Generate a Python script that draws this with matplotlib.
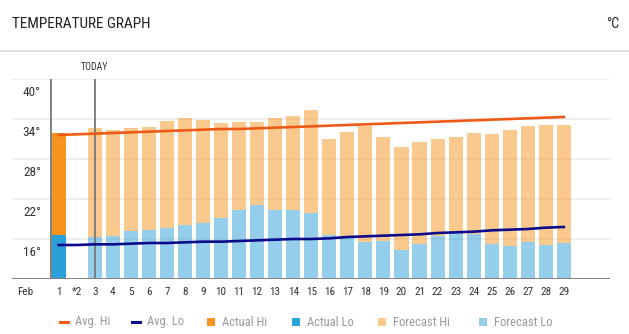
#!/usr/bin/env python
"""
Monthly temperature chart: actual / forecast highs and lows as columns,
with the long-term average highs and lows drawn as lines.
"""
import matplotlib
matplotlib.use("Agg")
import matplotlib.pyplot as plt
from matplotlib.lines import Line2D
from matplotlib.patches import Rectangle
from matplotlib.transforms import offset_copy, blended_transform_factory

plt.rcParams['font.family'] = ['Roboto Condensed', 'Liberation Sans Narrow', 'Roboto',
                               'DejaVu Sans']

# day labels along the x axis (day 2 has no reading)
days = list(range(1, 30))
day_labels = ['1', '*2'] + [str(d) for d in range(3, 30)]

# observed values (day 1)
actual_days = [1]
actual_hi = [31.9]
actual_lo = [16.6]

# forecast values (days 3..29)
forecast_days = list(range(3, 30))
forecast_hi = [32.7, 32.4, 32.7, 32.8, 33.7, 34.2, 33.9, 33.4, 33.6, 33.6,
               34.2, 34.5, 35.4, 31.0, 32.0, 33.0, 31.3, 29.8, 30.6, 31.0,
               31.3, 31.9, 31.8, 32.4, 33.0, 33.1, 33.1]
forecast_lo = [16.3, 16.4, 17.2, 17.4, 17.7, 18.1, 18.4, 19.2, 20.4, 21.1,
               20.4, 20.4, 19.9, 16.6, 16.2, 15.6, 15.7, 14.4, 15.3, 16.4,
               17.0, 16.8, 15.3, 15.0, 15.6, 15.1, 15.4]

# long-term averages for every day of the month
avg_hi = [31.6, 31.7, 31.8, 31.9, 32.0, 32.1, 32.2, 32.3, 32.4, 32.5,
          32.5, 32.6, 32.7, 32.8, 32.9, 33.0, 33.1, 33.2, 33.3, 33.4,
          33.5, 33.6, 33.7, 33.8, 33.9, 34.0, 34.1, 34.2, 34.3]
avg_lo = [15.1, 15.1, 15.2, 15.2, 15.3, 15.4, 15.4, 15.5, 15.6, 15.6,
          15.7, 15.8, 15.9, 16.0, 16.0, 16.1, 16.3, 16.4, 16.5, 16.6,
          16.7, 16.9, 17.0, 17.1, 17.3, 17.4, 17.5, 17.7, 17.8]

y_ticks = [16, 22, 28, 34, 40]

HI = '#f7941e'
LO = '#2a9fd8'
AVG_HI = '#ee5a16'
AVG_LO = '#0a0a8a'
W, H = 629, 334

fig = plt.figure(figsize=(W / 100, H / 100), dpi=100)
ax = fig.add_axes([12 / W, 1 - 279 / H, 598 / W, 200 / H])
ax.set_xlim(-1.59, 31.56)
ax.set_ylim(10, 40)
for s in ax.spines.values():
    s.set_visible(False)

# grid
for v in y_ticks:
    ax.axhline(v, color='#eeeeee', lw=1.3, zorder=0)
ax.axhline(10, color='#808080', lw=1.4, zorder=5)

bw = 0.78
ax.bar(actual_days, [h - l for h, l in zip(actual_hi, actual_lo)], bottom=actual_lo,
       width=bw, color=HI, zorder=2)
ax.bar(actual_days, [l - 10 for l in actual_lo], bottom=10, width=bw, color=LO, zorder=2)
ax.bar(forecast_days, [h - l for h, l in zip(forecast_hi, forecast_lo)], bottom=forecast_lo,
       width=bw, color=HI, alpha=0.5, lw=0, zorder=2)
ax.bar(forecast_days, [l - 10 for l in forecast_lo], bottom=10, width=bw, color=LO,
       alpha=0.5, lw=0, zorder=2)

ax.plot(days, avg_hi, color=AVG_HI, lw=1.9, zorder=4)
ax.plot(days, avg_lo, color=AVG_LO, lw=1.9, zorder=4)

# month start and today markers
ax.axvline(0.58, color='#777777', lw=1.3, zorder=3)
ax.axvline(3, color='#777777', lw=1.3, zorder=3)
ax.annotate('TODAY', xy=(3, 1), xycoords=('data', 'axes fraction'),
            xytext=(0, 8.6), textcoords='offset points', ha='center', va='center',
            fontsize=7, color='#333333')

# y labels sit just under their grid lines
ax.set_yticks([])
ylab = offset_copy(blended_transform_factory(ax.transAxes, ax.transData),
                   fig=fig, x=0, y=-14, units='dots')
for v in y_ticks:
    ax.text(29 / 598, v, '%d°' % v, transform=ylab, ha='right', va='center',
            fontsize=9.5, color='#333333')

ax.set_xticks([-0.87] + days)
ax.set_xticklabels(['Feb'] + day_labels, fontsize=8, color='#333333')
ax.tick_params(axis='x', length=0, pad=5.5)

# header
fig.text(12 / W, 1 - 24 / H, 'TEMPERATURE GRAPH', fontsize=11, color='#222222',
         va='center', ha='left')
fig.text(619 / W, 1 - 24 / H, '°C', fontsize=10, color='#222222', va='center', ha='right')
fig.add_artist(Line2D([0, 1], [1 - 51 / H] * 2, color='#dddddd', lw=1.2))

# legend
leg_y = 322
items = [('line', AVG_HI, 1.0, 'Avg. Hi', 60),
         ('line', AVG_LO, 1.0, 'Avg. Lo', 132),
         ('box', HI, 1.0, 'Actual Hi', 207),
         ('box', LO, 1.0, 'Actual Lo', 292),
         ('box', HI, 0.5, 'Forecast Hi', 378),
         ('box', LO, 0.5, 'Forecast Lo', 479)]
for kind, col, a, label, x0 in items:
    if kind == 'line':
        fig.add_artist(Line2D([x0 / W, (x0 + 8) / W], [1 - leg_y / H] * 2, color=col, lw=2.2))
    else:
        fig.add_artist(Rectangle((x0 / W, 1 - (leg_y + 4) / H), 8 / W, 8 / H,
                                 color=col, alpha=a, lw=0))
    fig.text((x0 + 15) / W, 1 - leg_y / H, label, fontsize=9, color='#999999',
             va='center', ha='left')

fig.savefig('out.png', dpi=100)
